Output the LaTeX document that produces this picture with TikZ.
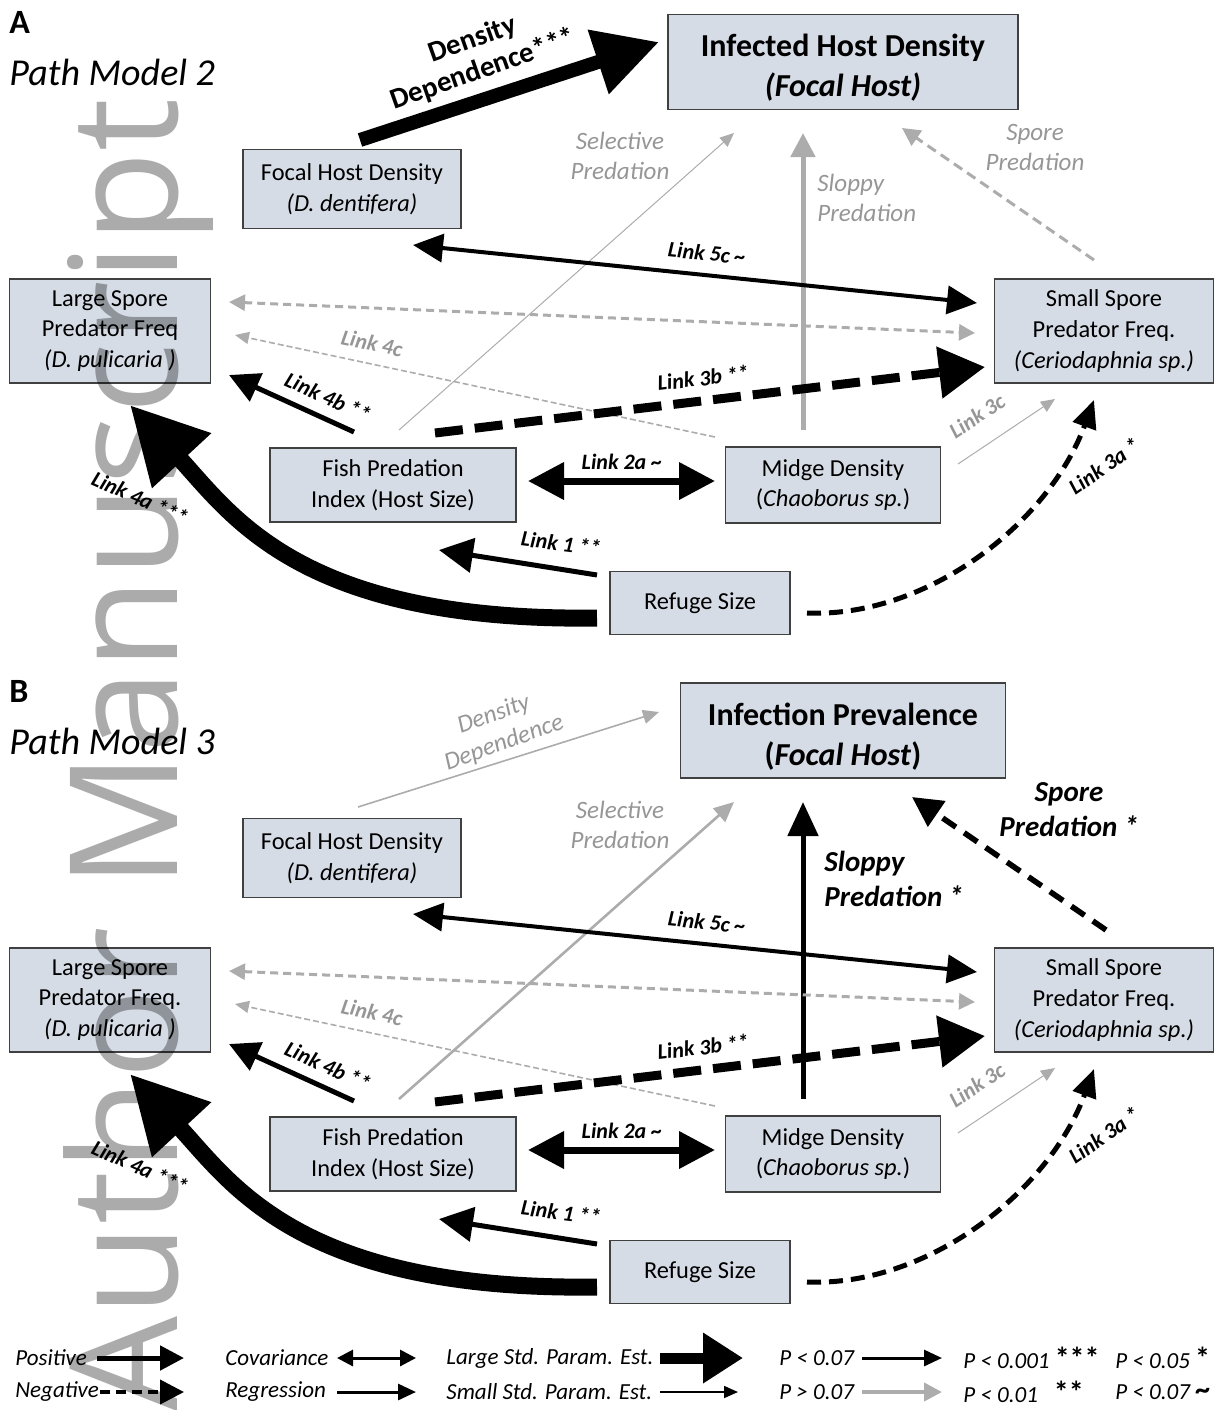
\documentclass[tikz,border=0pt]{standalone}
\usepackage{fontspec}
\setmainfont{Carlito}
\newfontfamily\markfont{Open Sans}
\usetikzlibrary{arrows.meta}

\definecolor{boxfill}{RGB}{214,220,230}
\definecolor{boxline}{RGB}{64,64,64}
\definecolor{paleline}{RGB}{172,172,172}
\definecolor{palelabel}{RGB}{150,150,150}

\tikzset{%
	box/.style       = {draw=boxline, fill=boxfill, line width=0.7pt, rectangle,
		align=center, inner sep=0pt, font=\fontsize{12.2}{15.3}\selectfont},
	topbox/.style    = {box, minimum height=47.5pt, font=\fontsize{16}{20}\selectfont\bfseries},
	linklabel/.style = {font=\fontsize{11}{13}\selectfont\bfseries\itshape, inner sep=0pt},
	palelink/.style  = {linklabel, text=palelabel},
	effect/.style    = {align=center, inner sep=0pt, font=\fontsize{12.5}{15}\selectfont\itshape, text=palelabel},
	boldeffect/.style = {align=left, inner sep=0pt, font=\fontsize{14.5}{17.5}\selectfont\bfseries\itshape},
	keytext/.style   = {anchor=west, inner sep=0pt, font=\fontsize{11.5}{13}\selectfont\itshape},
	onehead/.style 2 args  = {arrows={-{Triangle[length=#1,width=#2]}}},
	twoheads/.style 2 args = {arrows={{Triangle[length=#1,width=#2]}-{Triangle[length=#1,width=#2]}}}
}

% everything both path models share
\newcommand{\pathpanel}[3]{%
	\node[anchor=west, inner sep=0pt, font=\fontsize{17}{20}\selectfont\bfseries] (letter) at (9,22) {#1};
	\node[anchor=west, inner sep=0pt, font=\fontsize{19}{22}\selectfont\itshape] (model) at (9,72) {Path Model #2};
	% boxes
	\node[box, minimum width=109pt, minimum height=39.5pt] (focal) at (352,189) {Focal Host Density\\\textit{(D. dentifera)}};
	\node[box, minimum width=100.5pt, minimum height=52pt] (large) at (110,331) {Large Spore\\Predator Freq#3\\\textit{(D. pulicaria )}};
	\node[box, minimum width=109.5pt, minimum height=52pt] (small) at (1104,331) {Small Spore\\Predator Freq.\\\textit{(Ceriodaphnia sp.)}};
	\node[box, minimum width=123pt, minimum height=37pt] (fish) at (393,485) {Fish Predation\\Index (Host Size)};
	\node[box, minimum width=107.5pt, minimum height=38pt] (midge) at (833,485) {Midge Density\\(\textit{Chaoborus sp.})};
	\node[box, minimum width=90pt, minimum height=31.5pt] (refuge) at (700,603) {Refuge Size};
	% ends of the links
	\coordinate (cov-a) at (229,302);  \coordinate (cov-b) at (975,333);
	\coordinate (l5c-a) at (413,245);  \coordinate (l5c-b) at (977,303);
	\coordinate (l4c-a) at (715,437);  \coordinate (l4c-b) at (235,335);
	\coordinate (l3b-a) at (435,433);  \coordinate (l3b-b) at (985,367);
	\coordinate (l4b-a) at (354,432);  \coordinate (l4b-b) at (229,375);
	\coordinate (l2a-a) at (528,481);  \coordinate (l2a-b) at (715,481);
	\coordinate (l3c-a) at (958,464);  \coordinate (l3c-b) at (1055,399);
	\coordinate (l3a-a) at (807,613);  \coordinate (l3a-b) at (1094,400);
	\coordinate (l1-a) at (597,575);   \coordinate (l1-b) at (439,550);
	\coordinate (l4a-a) at (597,618);  \coordinate (l4a-b) at (130,405);
	% links
	\draw[paleline, line width=1.5pt, dash pattern=on 4pt off 2.5pt, twoheads={8pt}{8pt}] (cov-a) -- (cov-b);
	\draw[paleline, line width=0.8pt, dash pattern=on 3pt off 1.5pt, onehead={7pt}{6pt}] (l4c-a) -- (l4c-b);
	\draw[paleline, line width=0.5pt, onehead={7pt}{6pt}] (l3c-a) -- (l3c-b);
	\draw[line width=2pt, twoheads={15pt}{14pt}] (l5c-a) -- (l5c-b);
	\draw[line width=4.5pt, dash pattern=on 14pt off 6pt, onehead={23pt}{25pt}] (l3b-a) -- (l3b-b);
	\draw[line width=2.5pt, onehead={15pt}{15pt}] (l4b-a) -- (l4b-b);
	\draw[line width=3.5pt, twoheads={18pt}{18pt}] (l2a-a) -- (l2a-b);
	\draw[line width=2.5pt, onehead={17pt}{17pt}] (l1-a) -- (l1-b);
	\draw[line width=2.5pt, dash pattern=on 7pt off 4pt, onehead={14pt}{12pt}] (l3a-a) .. controls (925,618) and (1048,525) .. (l3a-b);
	\draw[line width=8.5pt, onehead={38pt}{38pt}] (l4a-a) .. controls (300,622) and (232,515) .. (l4a-b);
	% labels of the links
	\node[linklabel, rotate=-6] (t5c) at (707,253) {Link 5c \textasciitilde};
	\node[palelink, rotate=-12] (t4c) at (372,343) {Link 4c};
	\node[linklabel, rotate=6.5] (t3b) at (703,378) {Link 3b **};
	\node[linklabel, rotate=-24.5] (t4b) at (328,397) {Link 4b **};
	\node[linklabel] (t2a) at (622,462) {Link 2a \textasciitilde};
	\node[palelink, rotate=34] (t3c) at (977,416) {Link 3c};
	\node[linklabel, rotate=35] (t3a) at (1104,466) {Link 3a *};
	\node[linklabel, rotate=-7] (t1) at (561,543) {Link 1 **};
	\node[linklabel, rotate=-24] (t4a) at (140,498) {Link 4a ***};
	\node[effect] (tsel) at (620,156) {Selective\\Predation};
}

\begin{document}
\begin{tikzpicture}[x=0.5pt, y=-0.5pt]
	\useasboundingbox (0,0) rectangle (1221,1410);

	% A: path model 2
	\begin{scope}[name prefix=a-]
		\node[topbox, minimum width=175pt] (top) at (843,62) {\rule{0pt}{17pt}Infected Host Density\\\textit{(Focal Host)}};
		\coordinate (dd-a) at (360,140);   \coordinate (dd-b) at (659,42);
		\coordinate (sel-a) at (399,430);  \coordinate (sel-b) at (734,133);
		\coordinate (slo-a) at (803,430);  \coordinate (slo-b) at (803,133);
		\coordinate (spo-a) at (1094,260); \coordinate (spo-b) at (902,128);
		\draw[line width=7pt, onehead={32pt}{32pt}] (dd-a) -- (dd-b);
		\draw[paleline, line width=0.5pt, onehead={7pt}{6pt}] (sel-a) -- (sel-b);
		\draw[paleline, line width=2.5pt, onehead={12pt}{12pt}] (slo-a) -- (slo-b);
		\draw[paleline, line width=1.5pt, dash pattern=on 5pt off 3pt, onehead={9pt}{9pt}] (spo-a) -- (spo-b);
		\node[align=center, inner sep=0pt, rotate=19.5, font=\fontsize{14.5}{16}\selectfont\bfseries] (tdd) at (478,55) {Density\\Dependence***};
		\node[effect, anchor=west, align=left] (tslo) at (817,198) {Sloppy\\Predation};
		\node[effect] (tspo) at (1035,147) {Spore\\Predation};
		\pathpanel{A}{2}{}
	\end{scope}

	% B: path model 3
	\begin{scope}[name prefix=b-, shift={(0,669)}]
		\node[topbox, minimum width=162.5pt] (top) at (843,61.5) {\rule{0pt}{17pt}Infection Prevalence\\(\textit{Focal Host})};
		\coordinate (dd-a) at (358,138);   \coordinate (dd-b) at (659,43);
		\coordinate (sel-a) at (399,430);  \coordinate (sel-b) at (734,133);
		\coordinate (slo-a) at (803,430);  \coordinate (slo-b) at (803,133);
		\coordinate (spo-a) at (1106,261); \coordinate (spo-b) at (912,128);
		\draw[paleline, line width=0.8pt, onehead={8pt}{7pt}] (dd-a) -- (dd-b);
		\draw[paleline, line width=1.3pt, onehead={10pt}{9pt}] (sel-a) -- (sel-b);
		\draw[line width=2.5pt, onehead={17pt}{15pt}] (slo-a) -- (slo-b);
		\draw[line width=2.8pt, dash pattern=on 8pt off 5pt, onehead={15pt}{15pt}] (spo-a) -- (spo-b);
		\node[effect, rotate=20] (tdd) at (499,60) {Density\\Dependence};
		\node[boldeffect, anchor=west] (tslo) at (824,210) {Sloppy\\Predation *};
		\node[boldeffect, align=center] (tspo) at (1069,141) {Spore\\Predation *};
		\pathpanel{B}{3}{.}
	\end{scope}

	% legend
	\node[keytext] (kpos) at (15,1358) {Positive};
	\node[keytext] (kneg) at (15,1392) {Negative};
	\node[keytext] (kcov) at (225,1358) {Covariance};
	\node[keytext] (kreg) at (225,1392) {Regression};
	\node[keytext] (klarge) at (446,1358) {Large Std. Param. Est.};
	\node[keytext] (ksmall) at (446,1392) {Small Std. Param. Est.};
	\node[keytext] (kblack) at (779,1358) {P < 0.07};
	\node[keytext] (kgrey) at (779,1392) {P > 0.07};
	\node[keytext] (kp001) at (963,1358) {P < 0.001 {\upshape\bfseries\fontsize{15}{15}\selectfont ***}};
	\node[keytext] (kp01) at (963,1392) {P < 0.01\hspace{8pt}{\upshape\bfseries\fontsize{15}{15}\selectfont **}};
	\node[keytext] (kp05) at (1115,1358) {P < 0.05 {\upshape\bfseries\fontsize{15}{15}\selectfont *}};
	\node[keytext] (kp07) at (1115,1392) {P < 0.07 {\upshape\bfseries\fontsize{15}{15}\selectfont \textasciitilde}};
	\coordinate (pos-a) at (97,1358);   \coordinate (pos-b) at (184,1358);
	\coordinate (neg-a) at (100,1392);  \coordinate (neg-b) at (184,1392);
	\coordinate (cov-a) at (337,1358);  \coordinate (cov-b) at (416,1358);
	\coordinate (reg-a) at (337,1392);  \coordinate (reg-b) at (416,1392);
	\coordinate (big-a) at (660,1358);  \coordinate (big-b) at (743,1358);
	\coordinate (thin-a) at (660,1392); \coordinate (thin-b) at (738,1392);
	\coordinate (blk-a) at (862,1358);  \coordinate (blk-b) at (942,1358);
	\coordinate (gry-a) at (862,1392);  \coordinate (gry-b) at (942,1392);
	\draw[line width=2.5pt, onehead={12pt}{12pt}] (pos-a) -- (pos-b);
	\draw[line width=2pt, dash pattern=on 5pt off 3pt, onehead={12pt}{12pt}] (neg-a) -- (neg-b);
	\draw[line width=1.5pt, twoheads={8pt}{8pt}] (cov-a) -- (cov-b);
	\draw[line width=1.5pt, onehead={9pt}{8pt}] (reg-a) -- (reg-b);
	\draw[line width=5.5pt, onehead={20pt}{24pt}] (big-a) -- (big-b);
	\draw[line width=0.8pt, onehead={7pt}{6pt}] (thin-a) -- (thin-b);
	\draw[line width=1.5pt, onehead={9pt}{8pt}] (blk-a) -- (blk-b);
	\draw[paleline, line width=2pt, onehead={9pt}{9pt}] (gry-a) -- (gry-b);

	% watermark
	\node[rotate=90, anchor=base west, inner sep=0pt, text=black, text opacity=0.33,
		font=\fontsize{75}{75}\markfont] (mark) at (177,1412) {Author Manuscript};
\end{tikzpicture}
\end{document}
